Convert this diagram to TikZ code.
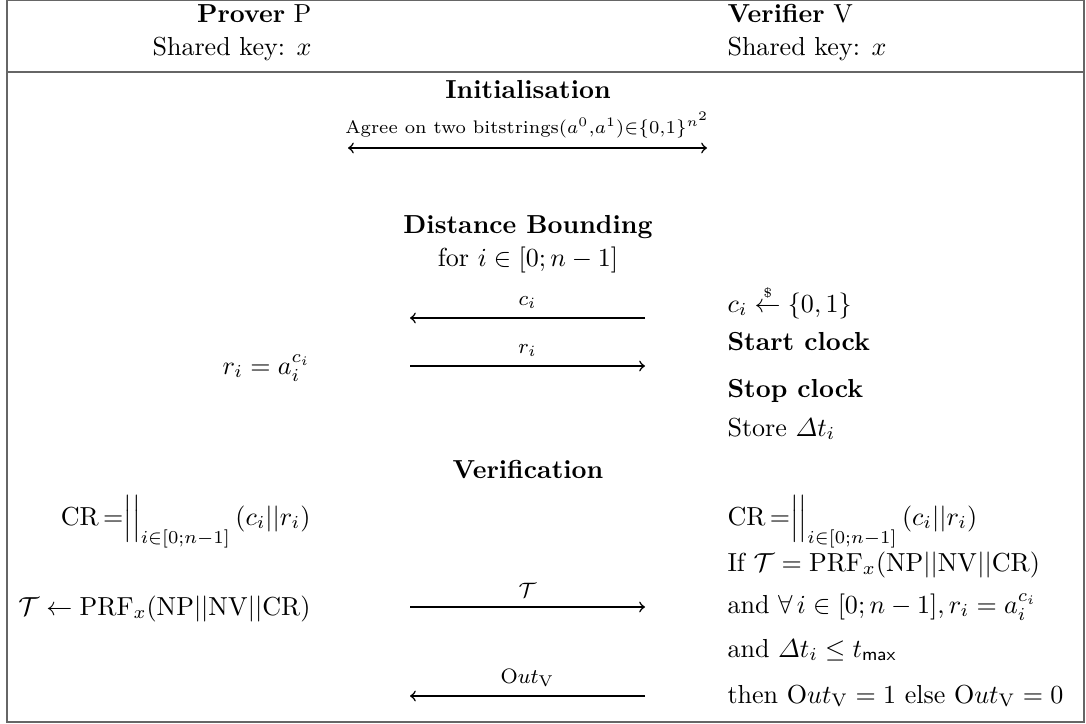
\documentclass[tikz,border=0pt]{standalone}
\usepackage{amsmath}
\usetikzlibrary{positioning}
\tikzset{
  frameline/.style={draw=black!60, line width=1pt},
  msg/.style={->, semithick},
  msglabel/.style={above=0pt, font=\footnotesize},
  lcol/.style={anchor=base east, inner sep=0pt},
  rcol/.style={anchor=base west, inner sep=0pt},
  mcol/.style={anchor=base, inner sep=0pt},
}
\begin{document}
\begin{tikzpicture}[x=0.384pt, y=-0.384pt]
	\useasboundingbox (0,0) rectangle (1086,724);
	\draw[frameline] (7,0) rectangle (1084,722);
	\draw[frameline] (7,72) -- (1084,72);

	% parties
	\node[lcol] (prover) at (312,22) {\textbf{Prover} P};
	\node[lcol] (pkey) at (312,55) {Shared key: $x$};
	\node[rcol] (verifier) at (727,22) {\textbf{Verifier} V};
	\node[rcol] (vkey) at (727,55) {Shared key: $x$};

	% initialisation
	\node[mcol] (init) at (528,98) {\textbf{Initialisation}};
	\coordinate (initL) at (348,148);
	\coordinate (initR) at (707,148);
	\draw[<->, semithick] (initL) -- node[msglabel, font=\scriptsize] {Agree on two bitstrings$(a^0{,}a^1){\in}\{0{,}1\}^{n^2}$} (initR);

	% distance bounding
	\node[mcol] (db) at (528,233) {\textbf{Distance Bounding}};
	\node[mcol] (loop) at (528,266) {for $i\in[0;n-1]$};
	\node[rcol] (pick) at (727,312) {$c_i \stackrel{\scriptscriptstyle\$}{\leftarrow} \{0,1\}$};
	\node[rcol] (start) at (727,350) {\textbf{Start clock}};
	\node[rcol] (stop) at (727,397) {\textbf{Stop clock}};
	\node[rcol] (store) at (727,436) {Store $\varDelta t_i$};
	\node[lcol] (resp) at (311,374) {$r_i = a_i^{c_i}$};
	\coordinate (chalR) at (645,318);
	\coordinate (chalL) at (410,318);
	\coordinate (respL) at (410,366);
	\coordinate (respR) at (645,366);
	\draw[msg] (chalR) -- node[msglabel] {$c_i$} (chalL);
	\draw[msg] (respL) -- node[msglabel] {$r_i$} (respR);

	% verification
	\node[mcol] (verif) at (528,478) {\textbf{Verification}};
	\node[lcol] (pcr) at (311,525) {$\mathrm{CR}\,{=}\Big|\Big|_{i\in[0;n-1]}\, (c_i||r_i)$};
	\node[rcol] (vcr) at (727,525) {$\mathrm{CR}\,{=}\Big|\Big|_{i\in[0;n-1]}\, (c_i||r_i)$};
	\node[rcol] (check) at (727,571) {If $\mathcal{T} = \mathrm{PRF}_x(\mathrm{NP}||\mathrm{NV}||\mathrm{CR})$};
	\node[rcol] (forall) at (727,613) {and $\forall\, i\in[0;n-1], r_i = a_i^{c_i}$};
	\node[lcol] (tag) at (311,615) {$\mathcal{T} \leftarrow \mathrm{PRF}_x(\mathrm{NP}||\mathrm{NV}||\mathrm{CR})$};
	\node[rcol] (time) at (727,657) {and $\varDelta t_i \leq t_{\mathsf{max}}$};
	\node[rcol] (out) at (727,703) {then $\mathrm{O}ut_{\mathrm{V}} = 1$ else $\mathrm{O}ut_{\mathrm{V}} = 0$};
	\coordinate (tagL) at (410,607);
	\coordinate (tagR) at (645,607);
	\coordinate (outR) at (645,696);
	\coordinate (outL) at (410,696);
	\draw[msg] (tagL) -- node[msglabel] {$\mathcal{T}$} (tagR);
	\draw[msg] (outR) -- node[msglabel] {$\mathrm{O}ut_{\mathrm{V}}$} (outL);
\end{tikzpicture}
\end{document}
